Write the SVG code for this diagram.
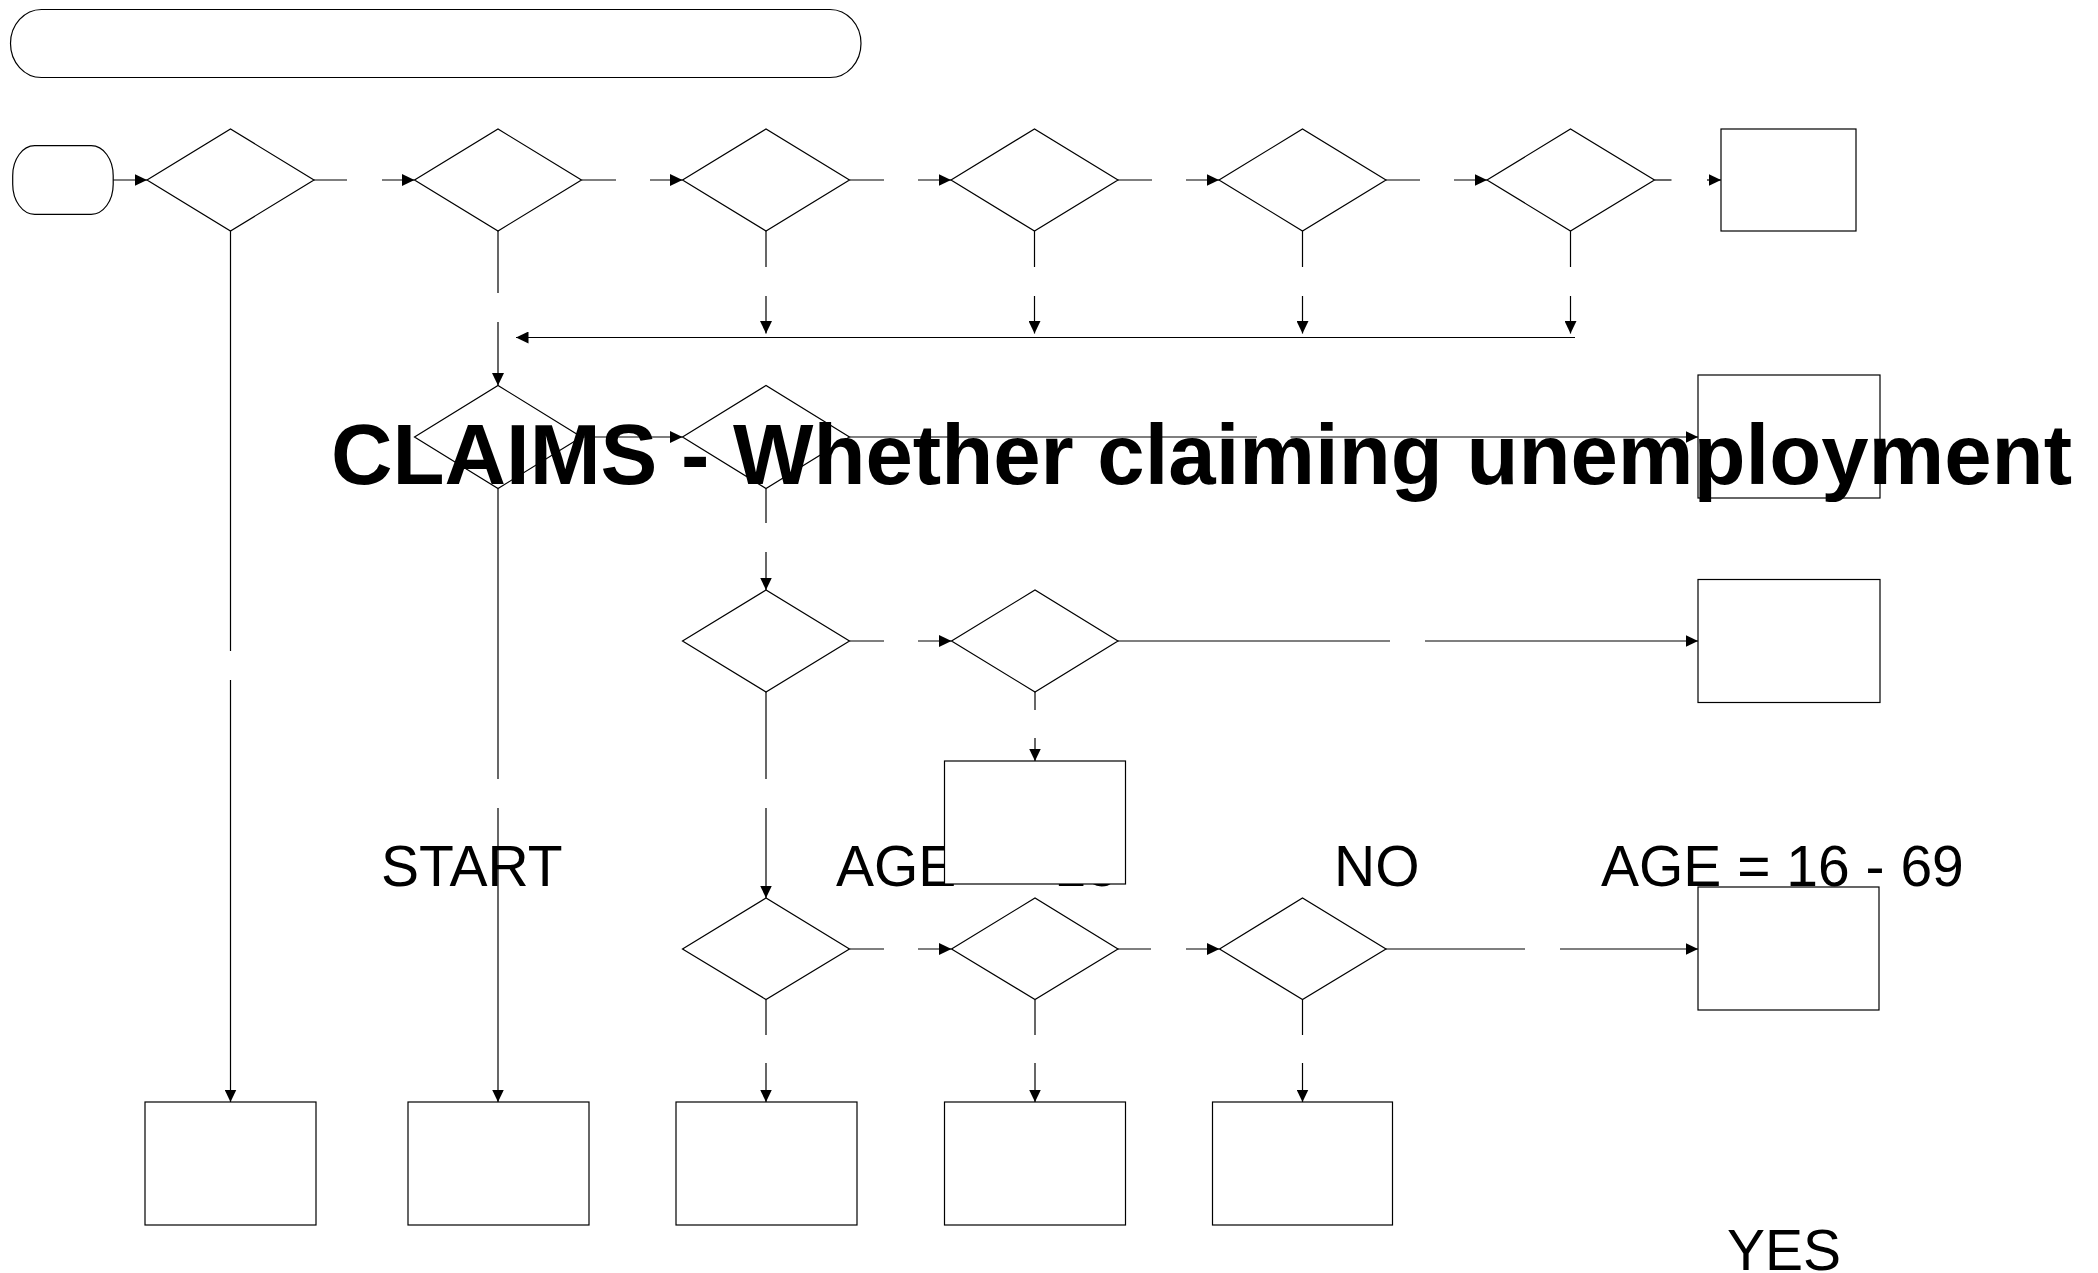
<svg xmlns="http://www.w3.org/2000/svg" width="2098" height="1273" viewBox="0 0 2098 1273">
<style>
.n{fill:#fff;stroke:#000;stroke-width:1.2}
.c{fill:none;stroke:#000;stroke-width:1.2}
.a{marker-end:url(#ah)}
.lbl{font-family:"Liberation Sans",Arial,sans-serif;font-size:57px;fill:#000}
.ttl{font-family:"Liberation Sans",Arial,sans-serif;font-size:85px;font-weight:bold;fill:#000}
</style>
<defs>
<marker id="ah" markerUnits="userSpaceOnUse" markerWidth="13" markerHeight="12" refX="12.5" refY="6" orient="auto">
<path d="M0,0 L12.5,6 L0,12 z" fill="#000"/>
</marker>
</defs>
<rect width="2098" height="1273" fill="#fff"/>

<g id="labels">
<text class="lbl" x="381" y="886">START</text>
<text class="lbl" x="836" y="886">AGE &lt;= 15</text>
<text class="lbl" x="1334" y="886">NO</text>
<text class="lbl" x="1601" y="886">AGE = 16 - 69</text>
<text class="lbl" x="1727" y="1270">YES</text>
</g>

<g id="connectors">
<line class="c a" x1="113" y1="180" x2="147" y2="180"/>
<line class="c" x1="314" y1="180" x2="347" y2="180"/>
<line class="c a" x1="382" y1="180" x2="414.5" y2="180"/>
<line class="c" x1="581.5" y1="180" x2="616" y2="180"/>
<line class="c a" x1="650" y1="180" x2="682.5" y2="180"/>
<line class="c" x1="849.5" y1="180" x2="884" y2="180"/>
<line class="c a" x1="918" y1="180" x2="951" y2="180"/>
<line class="c" x1="1118" y1="180" x2="1152" y2="180"/>
<line class="c a" x1="1186" y1="180" x2="1219" y2="180"/>
<line class="c" x1="1386" y1="180" x2="1420" y2="180"/>
<line class="c a" x1="1454" y1="180" x2="1487" y2="180"/>
<line class="c" x1="1654.5" y1="180" x2="1671.5" y2="180"/>
<line class="c a" x1="1707" y1="180" x2="1721" y2="180"/>

<line class="c" x1="230.5" y1="231" x2="230.5" y2="651"/>
<line class="c a" x1="230.5" y1="680" x2="230.5" y2="1102"/>
<line class="c" x1="498" y1="231" x2="498" y2="293"/>
<line class="c a" x1="498" y1="322" x2="498" y2="385.5"/>

<line class="c" x1="766" y1="231" x2="766" y2="267"/>
<line class="c a" x1="766" y1="296" x2="766" y2="333.5"/>
<line class="c" x1="1034.5" y1="231" x2="1034.5" y2="267"/>
<line class="c a" x1="1034.5" y1="296" x2="1034.5" y2="333.5"/>
<line class="c" x1="1302.5" y1="231" x2="1302.5" y2="267"/>
<line class="c a" x1="1302.5" y1="296" x2="1302.5" y2="333.5"/>
<line class="c" x1="1570.5" y1="231" x2="1570.5" y2="267"/>
<line class="c a" x1="1570.5" y1="296" x2="1570.5" y2="333.5"/>
<line class="c a" x1="1575" y1="337.5" x2="516" y2="337.5"/>

<line class="c a" x1="581.5" y1="437" x2="682.5" y2="437"/>
<line class="c" x1="849.5" y1="437" x2="1257" y2="437"/>
<line class="c a" x1="1290.5" y1="437" x2="1698" y2="437"/>
<line class="c" x1="498" y1="488.5" x2="498" y2="779"/>
<line class="c a" x1="498" y1="808" x2="498" y2="1102"/>
<line class="c" x1="766" y1="488.5" x2="766" y2="523"/>
<line class="c a" x1="766" y1="552" x2="766" y2="590"/>

<line class="c" x1="849.5" y1="641" x2="884" y2="641"/>
<line class="c a" x1="918" y1="641" x2="951.5" y2="641"/>
<line class="c" x1="1118" y1="641" x2="1390" y2="641"/>
<line class="c a" x1="1425" y1="641" x2="1698" y2="641"/>
<line class="c" x1="766" y1="692" x2="766" y2="779"/>
<line class="c a" x1="766" y1="808" x2="766" y2="898"/>
<line class="c" x1="1035" y1="692" x2="1035" y2="710"/>
<line class="c a" x1="1035" y1="738" x2="1035" y2="761"/>

<line class="c" x1="849.5" y1="949" x2="884" y2="949"/>
<line class="c a" x1="918" y1="949" x2="951.5" y2="949"/>
<line class="c" x1="1118" y1="949" x2="1151" y2="949"/>
<line class="c a" x1="1186" y1="949" x2="1219.5" y2="949"/>
<line class="c" x1="1386" y1="949" x2="1525" y2="949"/>
<line class="c a" x1="1560" y1="949" x2="1698" y2="949"/>
<line class="c" x1="766" y1="999.5" x2="766" y2="1035"/>
<line class="c a" x1="766" y1="1063" x2="766" y2="1102"/>
<line class="c" x1="1035" y1="999.5" x2="1035" y2="1035"/>
<line class="c a" x1="1035" y1="1063" x2="1035" y2="1102"/>
<line class="c" x1="1302.5" y1="999.5" x2="1302.5" y2="1035"/>
<line class="c a" x1="1302.5" y1="1063" x2="1302.5" y2="1102"/>
</g>

<g id="header"><rect class="n" x="10.5" y="9.5" width="850.5" height="68" rx="31" ry="34"/></g>
<g id="start"><rect class="n" x="12.7" y="145.7" width="100.5" height="68.6" rx="22" ry="30"/></g>

<g id="d1"><polygon class="n" points="147,180 230.5,129 314,180 230.5,231"/></g>
<g id="d2"><polygon class="n" points="414.5,180 498,129 581.5,180 498,231"/></g>
<g id="d3"><polygon class="n" points="682.5,180 766,129 849.5,180 766,231"/></g>
<g id="d4"><polygon class="n" points="951,180 1034.5,129 1118,180 1034.5,231"/></g>
<g id="d5"><polygon class="n" points="1219,180 1302.5,129 1386,180 1302.5,231"/></g>
<g id="d6"><polygon class="n" points="1487,180 1570.5,129 1654.5,180 1570.5,231"/></g>
<g id="b1"><rect class="n" x="1721" y="129" width="135" height="102"/></g>

<g id="d7"><polygon class="n" points="414.5,437 498,385.5 581.5,437 498,488.5"/></g>
<g id="d8"><polygon class="n" points="682.5,437 766,385.5 849.5,437 766,488.5"/></g>
<g id="b2"><rect class="n" x="1698" y="375" width="182" height="123"/></g>

<g id="d9"><polygon class="n" points="682.5,641 766,590 849.5,641 766,692"/></g>
<g id="d10"><polygon class="n" points="951.5,641 1035,590 1118,641 1035,692"/></g>
<g id="b3"><rect class="n" x="1698" y="579.5" width="182" height="123"/></g>
<g id="b4"><rect class="n" x="944.5" y="761" width="181" height="123"/></g>

<g id="d11"><polygon class="n" points="682.5,949 766,898 849.5,949 766,999.5"/></g>
<g id="d12"><polygon class="n" points="951.5,949 1035,898 1118,949 1035,999.5"/></g>
<g id="d13"><polygon class="n" points="1219.5,949 1302.5,898 1386,949 1302.5,999.5"/></g>
<g id="b5"><rect class="n" x="1698" y="887" width="181" height="123"/></g>

<g id="b6"><rect class="n" x="145" y="1102" width="171" height="123"/></g>
<g id="b7"><rect class="n" x="408" y="1102" width="181" height="123"/></g>
<g id="b8"><rect class="n" x="676" y="1102" width="181" height="123"/></g>
<g id="b9"><rect class="n" x="944.5" y="1102" width="181" height="123"/></g>
<g id="b10"><rect class="n" x="1212.5" y="1102" width="180" height="123"/></g>

<g id="title"><text class="ttl" x="331" y="483.5" textLength="1741" lengthAdjust="spacingAndGlyphs">CLAIMS - Whether claiming unemployment</text></g>
</svg>
